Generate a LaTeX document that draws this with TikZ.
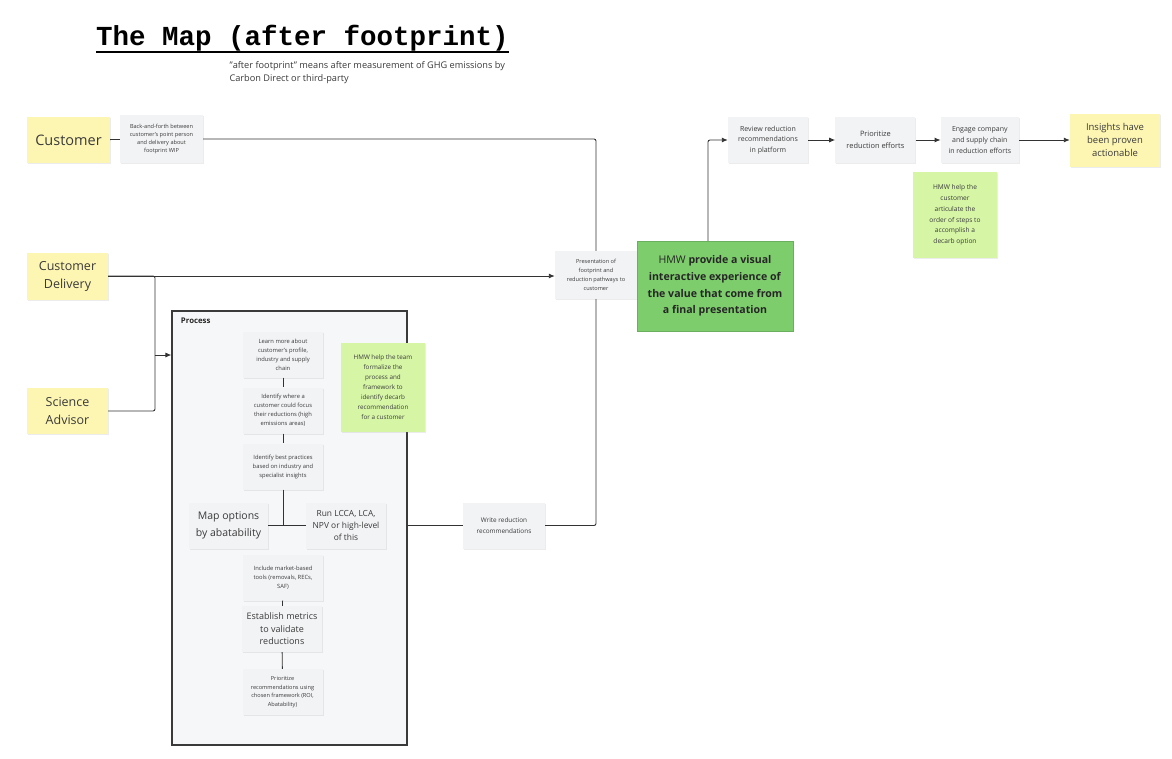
\documentclass[tikz,border=0pt]{standalone}
\usepackage{fontspec}
\setmainfont{Open Sans}
\newfontfamily\titlefont{Liberation Mono}
\usetikzlibrary{positioning,shadows,arrows.meta}

\definecolor{sticky}{HTML}{FDF6B3}
\definecolor{card}{HTML}{F2F3F5}
\definecolor{hmwdark}{HTML}{7ECD6D}
\definecolor{hmwlight}{HTML}{D6F6A6}
\definecolor{wire}{HTML}{333333}
\definecolor{ink}{HTML}{3A3A3A}

\begin{document}
\begin{tikzpicture}[x=1pt,y=-1pt,
    soft/.style={drop shadow={opacity=0.15,shadow xshift=1pt,shadow yshift=-1pt}},
    sticky note/.style={soft,fill=sticky,minimum width=83pt,minimum height=46pt,align=center,text=ink},
    card/.style={soft,fill=card,minimum width=80pt,minimum height=46pt,align=center,text=ink,
        font=\fontsize{5.8}{9}\selectfont},
    hmw note/.style={soft,fill=hmwlight,minimum width=84pt,align=center,text=ink,
        font=\fontsize{6.6}{10.8}\selectfont},
    wire/.style={draw=wire,line width=0.9pt,rounded corners=2pt},
    flow/.style={wire,-{Latex[length=6pt,width=5pt]}}]

    \useasboundingbox (0,0) rectangle (1172,758);

    % heading
    \node[anchor=west,inner sep=0pt,font=\titlefont\bfseries\fontsize{27.5}{30}\selectfont] (title) at (96,38)
        {The Map (after footprint)};
    \draw[line width=1.7pt] (title.south west |- 0,52) -- (title.south east |- 0,52);
    \node[anchor=north west,align=left,text=ink,font=\fontsize{9.2}{13}\selectfont] (subtitle) at (226,58)
        {"after footprint" means after measurement of GHG emissions by\\Carbon Direct or third-party};

    % actors
    \node[sticky note,font=\fontsize{14.5}{18}\selectfont] (customer) at (68.5,140) {Customer};
    \node[sticky note,minimum width=81pt,minimum height=47pt,font=\fontsize{12.5}{18}\selectfont] (delivery) at (67.5,276) {Customer\\Delivery};
    \node[sticky note,minimum width=81pt,font=\fontsize{12.5}{18}\selectfont] (advisor) at (67.5,411) {Science\\Advisor};

    \node[card,minimum width=83pt,minimum height=48pt,font=\fontsize{5.6}{8}\selectfont] (baf) at (161.5,139)
        {Back-and-forth between\\customer's point person\\and delivery about\\footprint WIP};

    % process container
    \node[draw=ink,fill=card!70!white,line width=1.1pt,minimum width=235pt,minimum height=434pt] (process) at (289.5,528) {};
    \node[anchor=north west,font=\bfseries\fontsize{7.8}{9}\selectfont,text=black!85] (proclabel)
        at ([xshift=6pt,yshift=-4pt]process.north west) {Process};

    \begin{scope}[node distance=56pt]
    \node[card] (learn) at (283,354.5) {Learn more about\\customer's profile,\\industry and supply\\chain};
    \node[card] (where) [below of=learn] {Identify where a\\customer could focus\\their reductions (high\\emissions areas)};
    \node[card] (best) [below of=where] {Identify best practices\\based on industry and\\specialist insights};
    \end{scope}
    \node[card,minimum width=79pt,font=\fontsize{10.5}{17}\selectfont] (abate) at (228.5,525.5) {Map options\\by abatability};
    \node[card,font=\fontsize{8.4}{12}\selectfont] (lcca) at (346,525.5) {Run LCCA, LCA,\\NPV or high-level\\of this};
    \node[card] (market) at (283,577.5) {Include market-based\\tools (removals, RECs,\\SAF)};
    \node[card,font=\fontsize{9}{12.5}\selectfont] (metrics) at (282,629) {Establish metrics\\to validate\\reductions};
    \node[card,font=\fontsize{5.6}{8.6}\selectfont] (rank) at (282.5,692) {Prioritize\\recommendations using\\chosen framework (ROI,\\Abatability)};

    \node[hmw note,minimum height=89pt,font=\fontsize{6.3}{10}\selectfont] (hmwteam) at (383,387.5)
        {HMW help the team\\formalize the\\process and\\framework to\\identify decarb\\recommendation\\for a customer};

    % presentation and follow-up
    \node[card,minimum width=82pt,minimum height=48pt,font=\fontsize{5.6}{9.2}\selectfont] (present) at (596,275)
        {Presentation of\\footprint and\\reduction pathways to\\customer};
    \node[card,minimum width=82pt,font=\fontsize{6.4}{11}\selectfont] (write) at (504,525.5) {Write reduction\\recommendations};

    \node[card,font=\fontsize{7}{10.8}\selectfont] (review) at (768,140) {Review reduction\\recommendations\\in platform};
    \node[card,font=\fontsize{7.4}{12}\selectfont] (focus) [right=27pt of review] {Prioritize\\reduction efforts};
    \node[card,minimum width=78pt,font=\fontsize{7}{10.8}\selectfont] (engage) [right=25pt of focus] {Engage company\\and supply chain\\in reduction efforts};
    \node[sticky note,minimum width=90pt,minimum height=53pt,font=\fontsize{9.5}{13}\selectfont] (insights) at (1115,140)
        {Insights have\\been proven\\actionable};

    \node[hmw note,minimum height=86pt] (hmwcust) at (955,215)
        {HMW help the\\customer\\articulate the\\order of steps to\\accomplish a\\decarb option};

    % connectors
    \coordinate (join) at (155,355);
    \coordinate (rise) at (708,200);

    \path[wire] (customer) -- (baf);
    \path[wire] (baf.east) -| (present.north);
    \path[flow] (delivery.east) -- (delivery.east -| present.west);
    \path[wire] (delivery.east) -| (join);
    \path[wire] (advisor.east) -| (join);
    \path[flow] (join) -- (join -| process.west);

    \path[wire] (learn) -- (where);
    \path[wire] (where) -- (best);
    \path[wire] (abate) -- (lcca);
    \path[wire] (best) -- (best |- abate);
    \path[wire] (market) -- (metrics);
    \path[wire] (metrics) -- (rank);

    \path[wire] (write.west -| process.east) -- (write.west);
    \path[wire] (write.east) -| (present.south);

    \path[flow] (present.east) -| (rise) |- (review.west);
    \path[flow] (review) -- (focus);
    \path[flow] (focus) -- (engage);
    \path[flow] (engage) -- (insights);

    % the big idea sits on top of the wire
    \node[soft,fill=hmwdark,draw=hmwdark!85!black,line width=0.3pt,minimum width=156pt,minimum height=90pt,
        align=center,text=black!85,font=\fontsize{10.6}{16.8}\selectfont] (hmwbig) at (715,286)
        {HMW \textbf{provide a visual}\\\textbf{interactive experience of}\\\textbf{the value that come from}\\\textbf{a final presentation}};
\end{tikzpicture}
\end{document}
